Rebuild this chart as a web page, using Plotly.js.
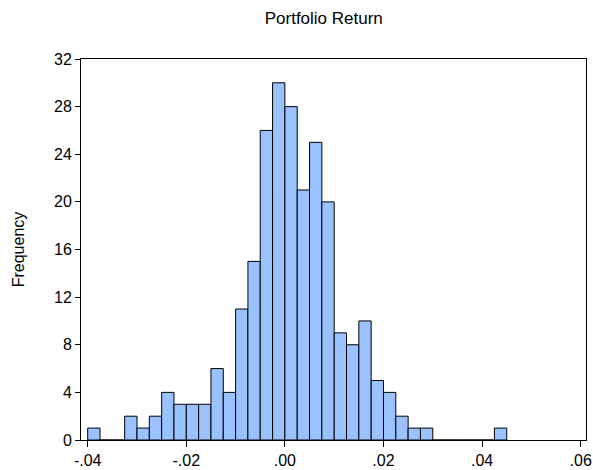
<!DOCTYPE html>
<html>
<head>
<meta charset="utf-8">
<script src="https://cdn.plot.ly/plotly-3.0.1.min.js"></script>
<style>html,body{margin:0;padding:0;background:#fff;}#chart{width:593px;height:470px;}</style>
</head>
<body>
<div id="chart"></div>
<script>
// Histogram of portfolio returns: bins of width 0.0025 starting at -0.04
var binStart = -0.04;
var binWidth = 0.0025;
var counts = [1,0,0,2,1,2,4,3,3,3,6,4,11,15,26,30,28,21,25,20,9,8,10,5,4,2,1,1,0,0,0,0,0,1];
var xTickVals = [-0.04,-0.02,0,0.02,0.04,0.06];
var xTickText = ["-.04","-.02",".00",".02",".04",".06"];
var yTickVals = [0,4,8,12,16,20,24,28,32];

var centers = counts.map(function(c,i){ return binStart + binWidth*(i+0.5); });

var trace = {
  type: 'bar',
  x: centers,
  y: counts,
  width: binWidth,
  marker: {color: '#99c2ff', line: {color: '#000000', width: 1}},
  hoverinfo: 'x+y'
};

var font = {family: 'Liberation Sans, Arial, sans-serif', size: 16, color: '#000'};

var layout = {
  width: 593, height: 470,
  margin: {l: 81, r: 7, t: 59, b: 30, pad: 0},
  paper_bgcolor: '#fff', plot_bgcolor: '#fff',
  showlegend: false,
  font: font,
  title: {text: 'Portfolio Return', font: {family: font.family, size: 17, color: '#000'},
          x: 0.546, xref: 'container', xanchor: 'center', y: 0.962, yref: 'container', yanchor: 'middle'},
  bargap: 0,
  xaxis: {
    range: [-0.04136, 0.06108],
    tickvals: xTickVals, ticktext: xTickText,
    ticks: 'outside', ticklen: 6, tickcolor: '#000', tickwidth: 1,
    showline: true, linecolor: '#000', linewidth: 1, mirror: true,
    showgrid: false, zeroline: false,
    tickfont: font
  },
  yaxis: {
    range: [0, 32],
    tickvals: yTickVals,
    ticks: 'outside', ticklen: 5, tickcolor: '#000', tickwidth: 1,
    showline: true, linecolor: '#000', linewidth: 1, mirror: true,
    showgrid: false, zeroline: false,
    tickfont: font,
    title: {text: 'Frequency', font: font, standoff: 25}
  }
};

Plotly.newPlot('chart', [trace], layout, {staticPlot: true, displayModeBar: false});
</script>
</body>
</html>
